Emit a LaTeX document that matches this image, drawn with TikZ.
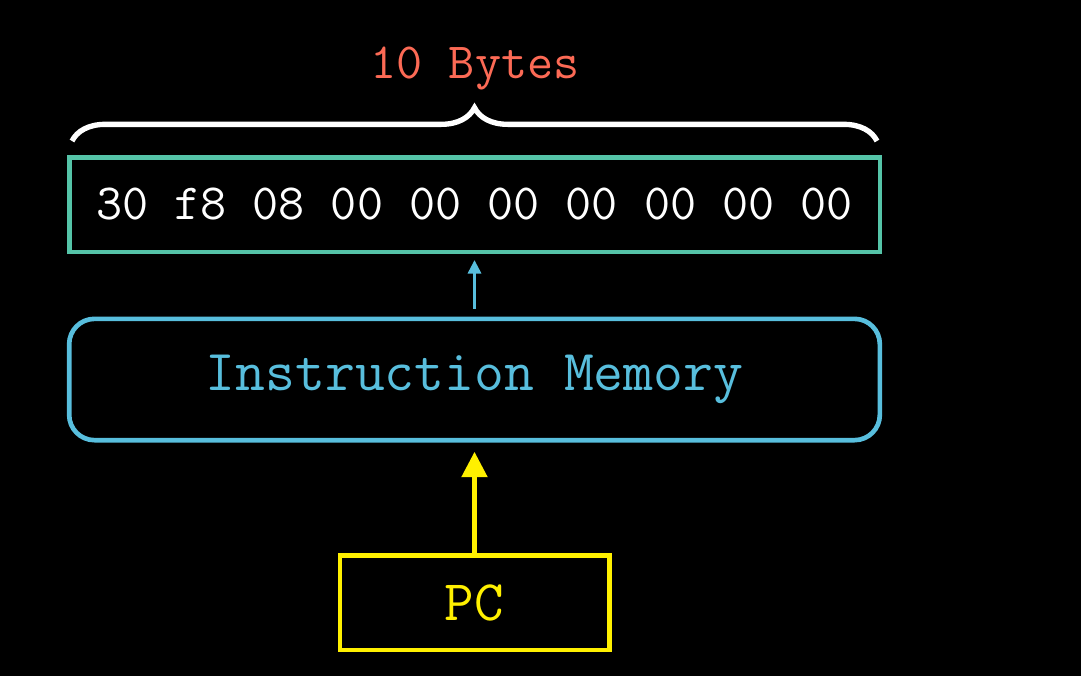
\documentclass[tikz,border=0pt]{standalone}
\usepackage{fontspec}
\usetikzlibrary{arrows.meta,decorations.pathreplacing}
\definecolor{tealc}{HTML}{55C4A8}
\definecolor{bluec}{HTML}{58BEDD}
\definecolor{yellowc}{HTML}{FFF000}
\definecolor{redc}{HTML}{FC6A55}
\begin{document}
\begin{tikzpicture}[x=0.75pt,y=-0.75pt,
  bytebox/.style={draw=tealc,line width=3.5pt,minimum width=608pt,minimum height=71pt,inner sep=0pt,text=white,font=\fontsize{38}{41}\selectfont\ttfamily},
  membox/.style={draw=bluec,line width=3.5pt,rounded corners=19pt,minimum width=608pt,minimum height=91pt,inner sep=0pt,text=bluec,font=\fontsize{43.5}{46}\selectfont\ttfamily},
  pcbox/.style={draw=yellowc,line width=3.5pt,minimum width=202pt,minimum height=71pt,inner sep=0pt,text=yellowc,font=\fontsize{43}{46}\selectfont\ttfamily},
  lbl/.style={text=redc,font=\fontsize{38}{41}\selectfont\ttfamily},
  thinarrow/.style={draw=bluec,line width=1.7pt,-{Triangle[length=10pt,width=10pt]}},
  thickarrow/.style={draw=yellowc,line width=3.2pt,-{Triangle[length=19pt,width=19pt]}},
  bracestyle/.style={draw=white,line width=4pt,decorate,decoration={brace,amplitude=25pt}}
]
\fill[black] (0,0) rectangle (1081,676);
\useasboundingbox (0,0) rectangle (1081,676);
\node[bytebox] (bytes) at (474.5,204.5) {30 f8 08 00 00 00 00 00 00 00};
\node[membox] (mem) at (474.5,379.5) {Instruction Memory};
\node[pcbox] (pc) at (474.5,602.5) {PC};
\coordinate (bl) at (72,141);
\coordinate (br) at (877,141);
\draw[bracestyle] (bl) -- (br);
\node[lbl] (lab) at (475,68) {10 Bytes};
\draw[thinarrow,shorten <=6pt,shorten >=4.5pt] (mem.north) -- (bytes.south);
\draw[thickarrow,shorten >=7pt] (pc.north) -- (mem.south);
\end{tikzpicture}
\end{document}
